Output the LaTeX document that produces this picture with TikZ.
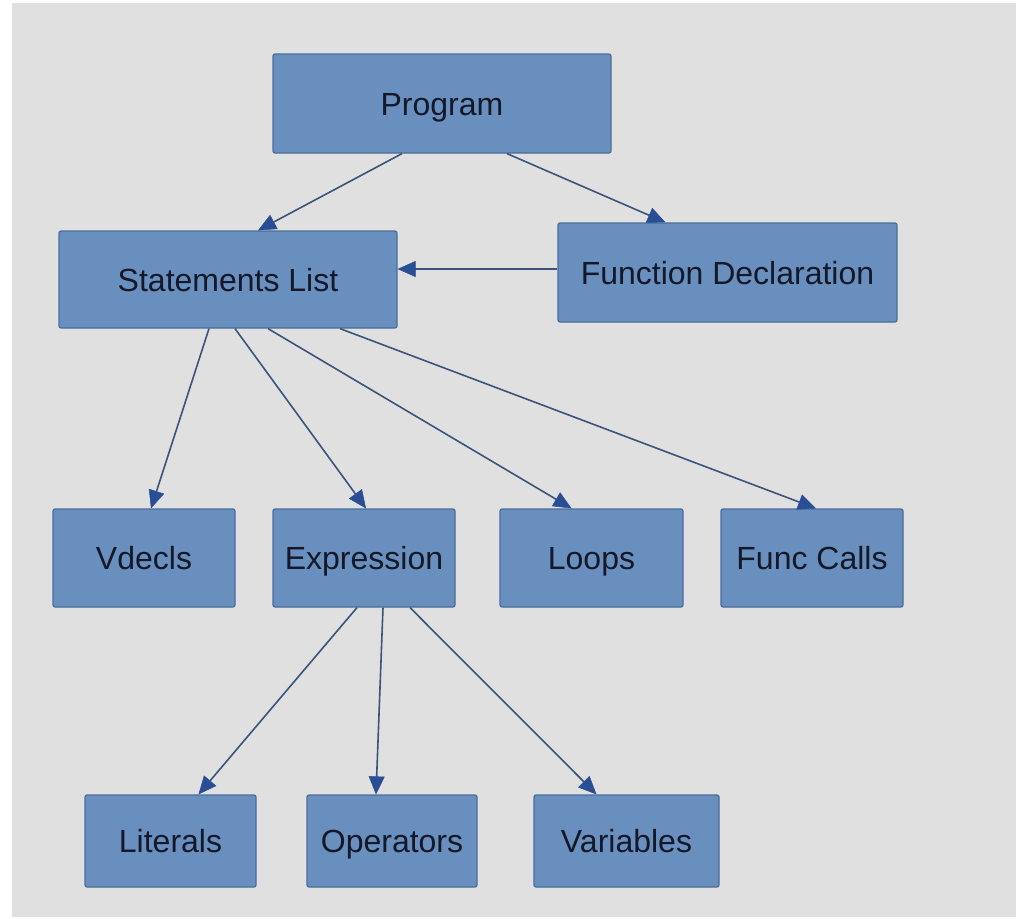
\documentclass[tikz,border=0pt]{standalone}
\usepackage{fontspec}
\setmainfont{Liberation Sans}
\usetikzlibrary{arrows.meta}
\definecolor{bg}{RGB}{224,224,224}
\definecolor{boxfill}{RGB}{104,143,189}
\definecolor{boxline}{RGB}{74,110,156}
\definecolor{arrline}{RGB}{60,84,122}
\definecolor{arrhead}{RGB}{42,78,150}
\definecolor{txt}{RGB}{20,24,40}
\tikzset{
  box/.style={draw=boxline, line width=1.2pt, fill=boxfill, rounded corners=2pt,
    inner sep=0pt, text=txt, font=\fontsize{32}{38}\selectfont,
    text height=23pt, text depth=0pt},
  conn/.style={draw=arrline, line width=1.6pt,
    -{Triangle[length=18pt,width=16pt,color=arrhead,fill=arrhead,line width=0.5pt]}},
}
\begin{document}
\begin{tikzpicture}[x=1pt,y=-1pt]
\useasboundingbox (0,0) rectangle (1016,918);
\fill[white] (0,0) rectangle (1016,918);
\fill[bg] (12,3) rectangle (1016,917);

\node[box, minimum width=338pt, minimum height=99pt] (prog) at (442,103.5) {Program};
\node[box, minimum width=338pt, minimum height=97pt] (sl) at (228,279.5) {Statements List};
\node[box, minimum width=339pt, minimum height=99pt] (fd) at (727.5,272.5) {Function Declaration};

\node[box, minimum width=182pt, minimum height=98pt] (vd) at (144,558) {Vdecls};
\node[box, minimum width=182pt, minimum height=98pt] (ex) at (364,558) {Expression};
\node[box, minimum width=183pt, minimum height=98pt] (lp) at (591.5,558) {Loops};
\node[box, minimum width=182pt, minimum height=98pt] (fc) at (812,558) {Func Calls};

\node[box, minimum width=171pt, minimum height=92pt] (lit) at (170.5,841) {Literals};
\node[box, minimum width=170pt, minimum height=92pt] (op) at (392,841) {Operators};
\node[box, minimum width=185pt, minimum height=92pt] (var) at (626.5,841) {Variables};

\draw[conn] ([xshift=-40pt]prog.south) -- ([xshift=30pt]sl.north);
\draw[conn] ([xshift=65pt]prog.south) -- ([xshift=-62pt]fd.north);
\coordinate (fdw) at ([yshift=3.5pt]fd.west);
\draw[conn] (fdw) -- (fdw -| sl.east);

\draw[conn] ([xshift=-19pt]sl.south) -- ([xshift=7pt]vd.north);
\draw[conn] ([xshift=7pt]sl.south) -- ([xshift=2pt]ex.north);
\draw[conn] ([xshift=40pt]sl.south) -- ([xshift=-20pt]lp.north);
\draw[conn] ([xshift=112pt]sl.south) -- ([xshift=4pt]fc.north);

\draw[conn] ([xshift=-7pt]ex.south) -- ([xshift=28pt]lit.north);
\draw[conn] ([xshift=19pt]ex.south) -- ([xshift=-16pt]op.north);
\draw[conn] ([xshift=46pt]ex.south) -- ([xshift=-30pt]var.north);
\end{tikzpicture}
\end{document}
